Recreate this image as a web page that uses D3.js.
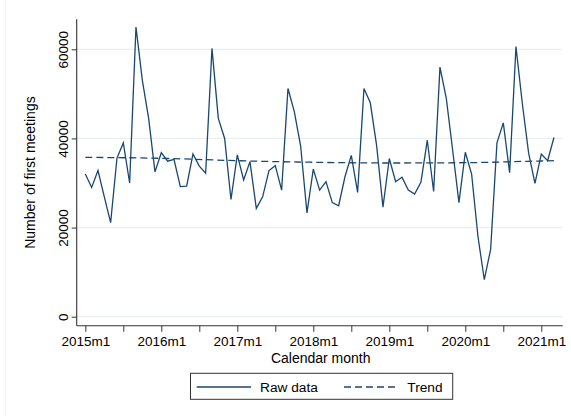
<!DOCTYPE html>
<html>
<head>
<meta charset="utf-8">
<script src="https://cdn.jsdelivr.net/npm/d3@7"></script>
<style>
  html, body { margin: 0; padding: 0; background: #fff; }
  svg { display: block; }
  text { font-family: "Liberation Sans", Arial, Helvetica, sans-serif; fill: #000; }
</style>
</head>
<body>
<svg id="chart" width="571" height="416"></svg>
<script>
// Monthly raw data, 2015m1 .. 2021m3 (75 months)
const startYear = 2015;
const rawData = [
  32000, 29000, 32800, 26900, 21100, 35600, 39000, 30000, 65000, 53100, 44500, 32500, // 2015
  36800, 34900, 35300, 29200, 29300, 36500, 33800, 32200, 60200, 44500, 40000, 26300, // 2016
  36300, 30700, 34800, 24300, 26900, 32800, 33900, 28400, 51200, 46000, 38300, 23300, // 2017
  33100, 28400, 30300, 25600, 24900, 31400, 36200, 27900, 51200, 48000, 38400, 24600, // 2018
  35500, 30300, 31300, 28400, 27500, 30200, 39600, 28100, 56000, 49000, 37400, 25600, // 2019
  36900, 32000, 18000,  8300, 15100, 39000, 43500, 32300, 60600, 47900, 36700, 29900, // 2020
  36500, 35000, 40200                                                                  // 2021
];
// Trend values read at each January and the final month (month index, value)
const trendMonths = [0, 12, 24, 36, 48, 60, 72, 74];
const trendValues = [35750, 35540, 35000, 34650, 34490, 34560, 34940, 35000];
// Axis ticks
const xTickMonths = [0, 12, 24, 36, 48, 60, 72];
const xTickLabels = ["2015m1", "2016m1", "2017m1", "2018m1", "2019m1", "2020m1", "2021m1"];
const xMinorTickMonths = [6, 18, 30, 42, 54, 66];
const yTickValues = [0, 20000, 40000, 60000];
const yTickLabels = ["0", "20000", "40000", "60000"];
const legendLabels = ["Raw data", "Trend"];

const navy = "#1a476f";
const svg = d3.select("#chart");

const plotLeft = 76.7, plotRight = 562.7, plotTop = 19.3, plotBottom = 325.8;
const x = d3.scaleLinear().domain([-1.36, 75.38]).range([plotLeft, plotRight]);
const y = d3.scaleLinear().domain([0, 60000]).range([316.7, 49.3]);

// faint outer border line
svg.append("line").attr("x1", 5.5).attr("x2", 5.5).attr("y1", 0).attr("y2", 416)
  .attr("stroke", "#f3f3f3").attr("stroke-width", 1);

// gridlines
svg.append("g").selectAll("line").data(yTickValues).join("line")
  .attr("x1", plotLeft).attr("x2", plotRight)
  .attr("y1", d => y(d)).attr("y2", d => y(d))
  .attr("stroke", "#eaf0f1").attr("stroke-width", 1.2);

// Y axis
const yAxis = d3.axisLeft(y).tickValues(yTickValues).tickSize(5).tickFormat((d, i) => yTickLabels[i]);
const gy = svg.append("g").attr("transform", `translate(${plotLeft},0)`).call(yAxis);
gy.select(".domain").remove();
gy.selectAll(".tick line").attr("stroke", "#333");
gy.selectAll(".tick text")
  .attr("font-size", 13.5)
  .attr("font-family", "Liberation Sans, Arial, sans-serif")
  .attr("fill", "#000")
  .attr("text-anchor", "middle")
  .attr("x", 0).attr("dy", 0)
  .attr("transform", "translate(-8.4,0) rotate(-90)");
svg.append("line").attr("x1", plotLeft).attr("x2", plotLeft)
  .attr("y1", plotTop).attr("y2", plotBottom).attr("stroke", "#333").attr("stroke-width", 1.1);

// X axis
const xAxis = d3.axisBottom(x).tickValues(xTickMonths).tickSize(6).tickPadding(4.5).tickFormat((d, i) => xTickLabels[i]);
const gx = svg.append("g").attr("transform", `translate(0,${plotBottom})`).call(xAxis);
gx.select(".domain").remove();
gx.selectAll(".tick line").attr("stroke", "#333");
gx.selectAll(".tick text")
  .attr("font-size", 13.5)
  .attr("font-family", "Liberation Sans, Arial, sans-serif")
  .attr("fill", "#000");
const xMinor = d3.axisBottom(x).tickValues(xMinorTickMonths).tickSize(6).tickFormat("");
const gxm = svg.append("g").attr("transform", `translate(0,${plotBottom})`).call(xMinor);
gxm.select(".domain").remove();
gxm.selectAll(".tick line").attr("stroke", "#333");
svg.append("line").attr("x1", plotLeft).attr("x2", plotRight)
  .attr("y1", plotBottom).attr("y2", plotBottom).attr("stroke", "#333").attr("stroke-width", 1.1);

// Axis titles
svg.append("text").attr("x", (plotLeft + plotRight) / 2 + 1).attr("y", 363)
  .attr("text-anchor", "middle").attr("font-size", 14).text("Calendar month");
svg.append("text").attr("transform", `translate(35,${(plotTop + plotBottom) / 2}) rotate(-90)`)
  .attr("text-anchor", "middle").attr("font-size", 14).text("Number of first meetings");

// Trend line (dashed)
const trendPts = trendMonths.map((m, i) => [m, trendValues[i]]);
svg.append("path").datum(trendPts)
  .attr("fill", "none").attr("stroke", navy).attr("stroke-width", 1.3)
  .attr("stroke-dasharray", "7,4")
  .attr("d", d3.line().x(d => x(d[0])).y(d => y(d[1])).curve(d3.curveMonotoneX));

// Raw data line
svg.append("path").datum(rawData)
  .attr("fill", "none").attr("stroke", navy).attr("stroke-width", 1.3)
  .attr("stroke-linejoin", "miter")
  .attr("d", d3.line().x((d, i) => x(i)).y(d => y(d)));

// Legend
const lg = svg.append("g");
lg.append("rect").attr("x", 190.5).attr("y", 373.3).attr("width", 262.2).attr("height", 26)
  .attr("fill", "#fff").attr("stroke", "#333").attr("stroke-width", 1);
lg.append("line").attr("x1", 196.7).attr("x2", 251).attr("y1", 387).attr("y2", 387)
  .attr("stroke", navy).attr("stroke-width", 1.3);
lg.append("text").attr("x", 260).attr("y", 392).attr("font-size", 13.7).text(legendLabels[0]);
lg.append("line").attr("x1", 344).attr("x2", 399).attr("y1", 387).attr("y2", 387)
  .attr("stroke", navy).attr("stroke-width", 1.3).attr("stroke-dasharray", "7,4");
lg.append("text").attr("x", 407.3).attr("y", 392).attr("font-size", 13.7).text(legendLabels[1]);
</script>
</body>
</html>
